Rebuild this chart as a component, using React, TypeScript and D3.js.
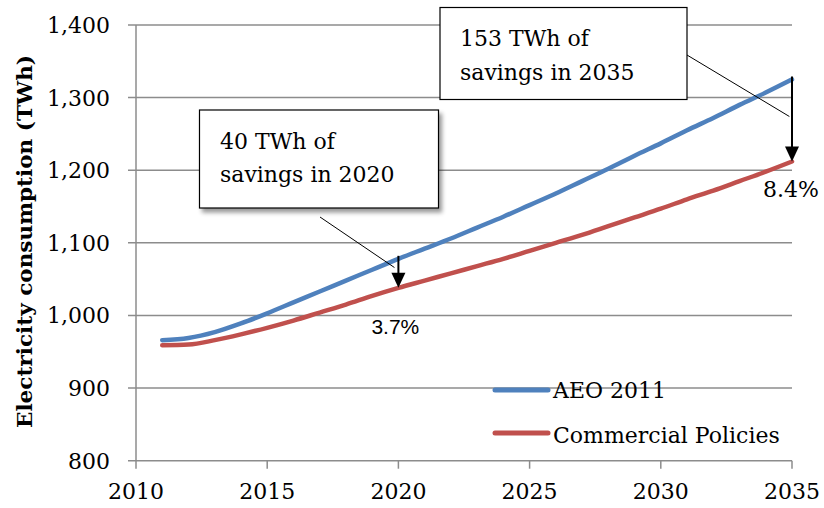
import React from "react";
import * as d3 from "d3";

const years = [2011, 2012, 2013, 2014, 2015, 2016, 2017, 2018, 2019, 2020, 2021, 2022, 2023, 2024, 2025, 2026, 2027, 2028, 2029, 2030, 2031, 2032, 2033, 2034, 2035];
const aeo2011 = [966, 969, 977, 989, 1003, 1018, 1033, 1048, 1063, 1078, 1092, 1106, 1121, 1136, 1152, 1168, 1185, 1202, 1220, 1237, 1255, 1272, 1290, 1307, 1325];
const commercial = [959, 960, 966, 974, 983, 993, 1004, 1015, 1027, 1038, 1048, 1058, 1068, 1078, 1089, 1100, 1111, 1123, 1135, 1147, 1160, 1172, 1185, 1198, 1212];
const yTicks = [800, 900, 1000, 1100, 1200, 1300, 1400];
const xTicks = [2010, 2015, 2020, 2025, 2030, 2035];
const seriesNames = ["AEO 2011", "Commercial Policies"];
const seriesColors = ["#4F81BD", "#C0504D"];
const savingsYears = [2020, 2035];
const savingsPct = ["3.7%", "8.4%"];
const boxLines = [["40 TWh of", "savings in 2020"], ["153 TWh of", "savings in 2035"]];

const SERIF = "'DejaVu Serif', serif";

export default function App() {
  const x = d3.scaleLinear().domain([2010, 2035]).range([136, 792]);
  const y = d3.scaleLinear().domain([800, 1400]).range([460.7, 25]);
  const fmt = d3.format(",");
  const line = d3
    .line<[number, number]>()
    .x((d) => x(d[0]))
    .y((d) => y(d[1]))
    .curve(d3.curveMonotoneX);
  const series = [aeo2011, commercial].map((vals) => years.map((yr, i) => [yr, vals[i]] as [number, number]));
  const valAt = (arr: number[], yr: number) => arr[years.indexOf(yr)];
  const grid = "#8C8C8C";

  const arrow = (yr: number) => {
    const x0 = x(yr);
    const y0 = y(valAt(aeo2011, yr)) - 3;
    const y1 = y(valAt(commercial, yr));
    const hh = 15;
    return (
      <g key={"arr" + yr}>
        <line x1={x0} x2={x0} y1={y0} y2={y1 - hh + 2} stroke="#000" strokeWidth={2} />
        <path d={`M${x0 - 7},${y1 - hh} L${x0 + 7},${y1 - hh} L${x0},${y1} Z`} fill="#000" />
      </g>
    );
  };

  return (
    <svg width={824} height={508} style={{ position: "absolute", left: 0, top: 0, background: "#fff" }}>
      <defs>
        <filter id="shadow" x="-10%" y="-10%" width="130%" height="140%">
          <feDropShadow dx={3} dy={4} stdDeviation={2} floodColor="#000" floodOpacity={0.4} />
        </filter>
      </defs>
      <rect width={824} height={508} fill="#fff" />
      {yTicks.map((t) => (
        <line key={t} x1={128} x2={x(2035)} y1={y(t)} y2={y(t)} stroke={grid} strokeWidth={1.5} />
      ))}
      <line x1={x(2010)} x2={x(2010)} y1={y(1400)} y2={y(800)} stroke={grid} strokeWidth={1.5} />
      {xTicks.map((t) => (
        <line key={t} x1={x(t)} x2={x(t)} y1={y(800)} y2={y(800) + 8} stroke={grid} strokeWidth={1.5} />
      ))}
      {yTicks.map((t) => (
        <text key={t} x={110} y={y(t) + 8} textAnchor="end" fontFamily={SERIF} fontSize={22} fill="#000">
          {fmt(t)}
        </text>
      ))}
      {xTicks.map((t) => (
        <text key={t} x={x(t)} y={499} textAnchor="middle" fontFamily={SERIF} fontSize={22} fill="#000">
          {t}
        </text>
      ))}
      <text
        transform={`translate(32,${241.5}) rotate(-90)`}
        textAnchor="middle"
        fontFamily={SERIF}
        fontWeight="bold"
        fontSize={20}
        textLength={373}
        lengthAdjust="spacingAndGlyphs"
        fill="#000"
      >
        Electricity consumption (TWh)
      </text>
      {series.map((s, i) => (
        <path key={i} d={line(s) || ""} fill="none" stroke={seriesColors[i]} strokeWidth={4.5} strokeLinecap="round" />
      ))}
      {seriesNames.map((n, i) => (
        <g key={n}>
          <line x1={495} x2={548} y1={390 + i * 43} y2={390 + i * 43} stroke={seriesColors[i]} strokeWidth={5} strokeLinecap="round" />
          <text x={553} y={398 + i * 45} fontFamily={SERIF} fontSize={22} fill="#000">
            {n}
          </text>
        </g>
      ))}
      <line x1={320} y1={217} x2={x(2019.85)} y2={y(1066)} stroke="#000" strokeWidth={1} />
      <line x1={687} y1={55} x2={x(2034.9)} y2={y(1274)} stroke="#000" strokeWidth={1} />
      {savingsYears.map((yr) => arrow(yr))}
      <text x={x(savingsYears[0]) - 27} y={334} fontFamily="'Liberation Sans', Arial, sans-serif" fontSize={21} fill="#000">
        {savingsPct[0]}
      </text>
      <text x={763} y={197} fontFamily={SERIF} fontSize={22} fill="#000">
        {savingsPct[1]}
      </text>
      <rect x={199.5} y={110} width={239} height={98} fill="#fff" stroke="#000" strokeWidth={1.2} filter="url(#shadow)" />
      <text fontFamily={SERIF} fontSize={22} fill="#000">
        <tspan x={220} y={149}>{boxLines[0][0]}</tspan>
        <tspan x={220} y={182}>{boxLines[0][1]}</tspan>
      </text>
      <rect x={440} y={7.5} width={247} height={92} fill="#fff" stroke="#000" strokeWidth={1.2} />
      <text fontFamily={SERIF} fontSize={22} fill="#000">
        <tspan x={460} y={46}>{boxLines[1][0]}</tspan>
        <tspan x={460} y={80}>{boxLines[1][1]}</tspan>
      </text>
    </svg>
  );
}
